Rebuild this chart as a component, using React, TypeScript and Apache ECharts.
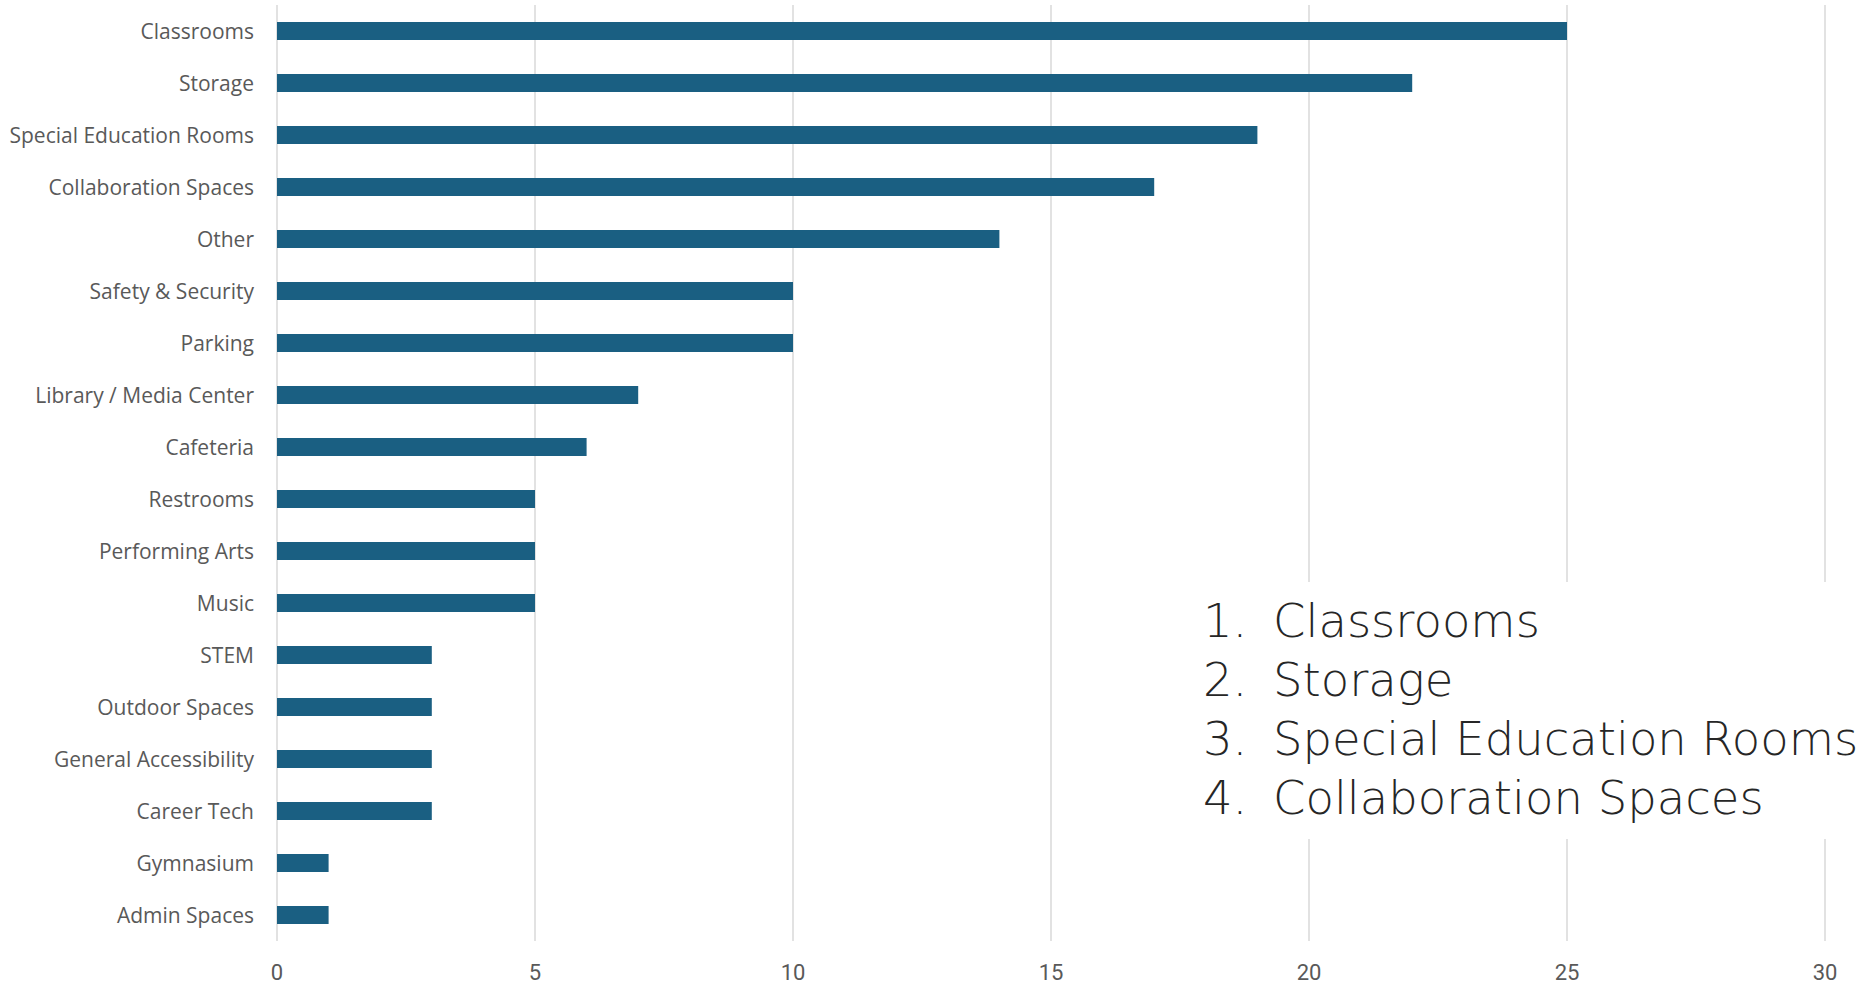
import React, { useEffect, useRef } from "react";
import * as echarts from "echarts";

const categories = [
  "Classrooms",
  "Storage",
  "Special Education Rooms",
  "Collaboration Spaces",
  "Other",
  "Safety & Security",
  "Parking",
  "Library / Media Center",
  "Cafeteria",
  "Restrooms",
  "Performing Arts",
  "Music",
  "STEM",
  "Outdoor Spaces",
  "General Accessibility",
  "Career Tech",
  "Gymnasium",
  "Admin Spaces",
];
const values = [25, 22, 19, 17, 14, 10, 10, 7, 6, 5, 5, 5, 3, 3, 3, 3, 1, 1];
const topList = ["Classrooms", "Storage", "Special Education Rooms", "Collaboration Spaces"];

export default function App() {
  const ref = useRef<HTMLDivElement>(null);
  useEffect(() => {
    if (!ref.current) return;
    const chart = echarts.init(ref.current, undefined, { renderer: "svg" });
    const font = "Roboto, 'Open Sans', sans-serif";
    const labelFont = "'Open Sans', Roboto, sans-serif";
    const listFont = "'DejaVu Sans', 'Open Sans', sans-serif";
    const listItems: any[] = [];
    topList.forEach((t, i) => {
      const y = 621 + i * 59;
      listItems.push({
        type: "text",
        x: 1203,
        y,
        z: 101,
        style: {
          text: `${i + 1}.`,
          fontSize: 46.5,
          fontFamily: listFont,
          fontWeight: 200,
          fill: "#262626",
          textVerticalAlign: "middle",
        },
      });
      listItems.push({
        type: "text",
        x: 1273,
        y,
        z: 101,
        style: {
          text: t,
          fontSize: 46.5,
          fontFamily: listFont,
          fontWeight: 200,
          fill: "#262626",
          textVerticalAlign: "middle",
        },
      });
    });
    chart.setOption({
      animation: false,
      grid: { left: 277, top: 5, width: 1548, height: 938, containLabel: false },
      xAxis: {
        type: "value",
        min: 0,
        max: 30,
        interval: 5,
        axisLine: { show: false },
        axisTick: { show: false },
        axisLabel: { fontSize: 22, color: "#595959", fontFamily: font, margin: 20 },
        splitLine: { show: true, lineStyle: { color: "#d9d9d9", width: 1.5 } },
      },
      yAxis: {
        type: "category",
        data: categories,
        inverse: true,
        axisLine: { show: false },
        axisTick: { show: false },
        axisLabel: { fontSize: 21, color: "#595959", fontFamily: labelFont, margin: 23 },
        splitLine: { show: false },
      },
      series: [
        {
          type: "bar",
          data: values,
          barWidth: 18,
          itemStyle: { color: "#1a5f82" },
        },
      ],
      graphic: [
        {
          type: "group",
          z: 100,
          children: [
            {
              type: "rect",
              z: 100,
              shape: { x: 1190, y: 582, width: 680, height: 257 },
              style: { fill: "#ffffff" },
            },
            ...listItems,
          ],
        },
      ],
    });
    return () => chart.dispose();
  }, []);
  return (
    <div
      ref={ref}
      style={{ position: "absolute", left: 0, top: 0, width: 1870, height: 983, background: "#fff" }}
    />
  );
}
